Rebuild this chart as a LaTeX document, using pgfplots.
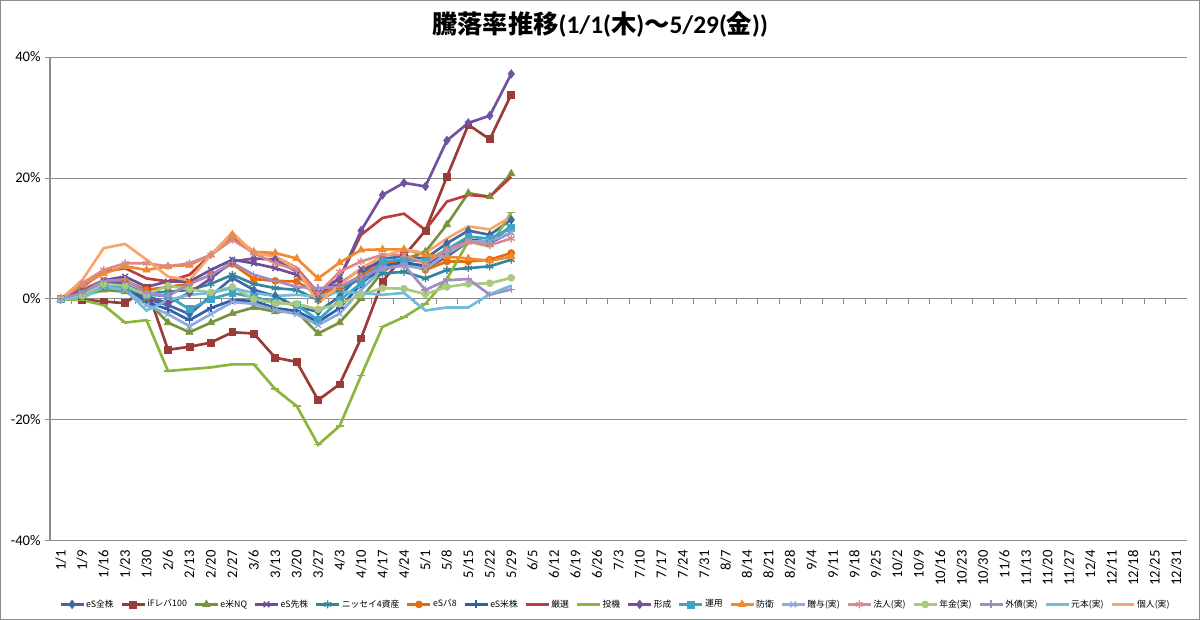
\documentclass[border=0pt]{standalone}
\usepackage{pgfplots}
\usepackage{pgfplotstable}
\pgfplotsset{compat=1.18}
\usetikzlibrary{plotmarks}
\usepackage{fontspec}
\setmainfont{Carlito}
\newfontfamily\jp{Noto Sans CJK JP}

\definecolor{c1}{HTML}{3F6BA5}
\definecolor{c2}{HTML}{9B3B38}
\definecolor{c3}{HTML}{77933C}
\definecolor{c4}{HTML}{6B4E96}
\definecolor{c5}{HTML}{31859C}
\definecolor{c6}{HTML}{E46C0A}
\definecolor{c7}{HTML}{2F5FA8}
\definecolor{c8}{HTML}{BE3C3C}
\definecolor{c9}{HTML}{8DB43F}
\definecolor{c10}{HTML}{7151A0}
\definecolor{c11}{HTML}{3FA4C4}
\definecolor{c12}{HTML}{F08A30}
\definecolor{c13}{HTML}{8EA9DB}
\definecolor{c14}{HTML}{DA8A8A}
\definecolor{c15}{HTML}{A9C97E}
\definecolor{c16}{HTML}{A38CC6}
\definecolor{c17}{HTML}{6FBDD8}
\definecolor{c18}{HTML}{F9A56A}
\definecolor{gridc}{HTML}{8C8C8C}

\pgfplotstableread{
x s1 s2 s3 s4 s5 s6 s7 s8 s9 s10 s11 s12 s13 s14 s15 s16 s17 s18
0 0 0 0 0 0 0 0 0 0 0 0 0 0 0 0 0 0 0
1 1.0 -0.1 0.5 1.5 1.0 1.3 1.0 2.0 -0.2 1.2 0.8 2.3 0.8 2.6 0.5 1.0 0.1 3.1
2 2.5 -0.4 1.5 3.1 2.5 3.0 2.2 4.5 -1.0 2.8 2.3 4.2 2.0 4.8 2.5 3.0 2.0 8.4
3 2.0 -0.7 1.2 3.7 2.2 3.0 1.8 5.1 -3.9 2.5 1.8 5.4 1.5 5.9 2.2 3.2 1.5 9.1
4 0.0 1.9 -0.2 2.0 1.0 1.5 -0.5 3.4 -3.5 0.5 0.7 4.8 -1.0 5.9 0.7 1.0 -1.9 6.5
5 -1.0 -8.4 -3.9 2.9 1.2 2.0 -1.7 2.9 -11.9 -0.7 0.5 5.4 -2.5 5.4 2.2 0.5 -0.2 3.7
6 -2.5 -7.9 -5.5 2.9 1.5 2.5 -3.5 4.0 -11.6 1.0 -1.7 5.6 -4.5 5.9 1.6 2.5 0.7 3.1
7 0.5 -7.2 -3.9 4.8 2.5 4.0 -1.5 7.3 -11.3 3.4 0.0 7.3 -2.5 7.3 1.1 4.0 1.0 7.3
8 3.5 -5.5 -2.4 6.5 4.0 5.8 -0.2 10.3 -10.8 6.2 1.0 10.6 -0.5 9.8 2.0 6.0 1.8 11.0
9 1.5 -5.7 -1.4 5.9 2.5 3.3 -0.3 7.8 -10.8 6.7 0.3 7.8 -0.8 7.6 0.0 4.0 1.0 7.6
10 0.5 -9.7 -2.1 5.1 1.8 3.0 -1.5 7.0 -14.9 6.5 -0.5 7.6 -1.8 5.9 -0.7 3.0 0.5 7.0
11 -1.3 -10.4 -2.1 4.0 1.5 2.9 -2.0 5.1 -17.7 4.5 -1.0 6.7 -2.5 4.8 -0.8 2.0 0.7 5.0
12 -2.1 -16.7 -5.7 1.0 -0.2 0.7 -3.8 1.0 -24.1 0.8 -3.5 3.4 -4.3 0.9 -1.7 1.8 0.4 -0.7
13 0.4 -14.1 -3.9 2.5 1.5 2.0 -1.5 3.5 -21.0 3.4 -0.2 6.0 -2.4 4.5 -0.8 2.0 1.2 2.3
14 4.2 -6.5 0.1 5.0 3.4 3.8 2.5 10.6 -12.7 11.3 2.6 8.1 1.5 6.2 0.7 3.7 1.0 5.1
15 6.7 2.9 4.5 6.0 4.2 5.9 5.5 13.4 -4.6 17.2 6.2 8.2 5.0 7.3 1.8 5.1 0.7 7.0
16 7.0 7.1 6.5 6.3 4.5 5.9 6.0 14.1 -3.0 19.2 6.5 8.2 5.5 7.3 1.7 5.6 1.0 8.2
17 6.7 11.3 7.8 5.0 3.4 4.8 5.5 11.4 -0.8 18.6 6.2 7.3 5.0 5.9 0.8 1.5 -1.9 7.6
18 9.2 20.2 12.3 7.0 4.8 6.2 8.0 16.1 3.3 26.2 8.2 7.0 7.5 8.1 2.0 3.1 -1.4 10.0
19 11.3 28.8 17.5 9.5 5.1 6.2 9.8 17.2 9.5 29.1 10.3 6.7 9.5 9.5 2.5 3.3 -1.4 12.0
20 10.6 26.4 16.9 9.3 5.4 6.5 9.5 16.9 8.7 30.3 10.0 6.3 9.5 8.9 2.6 0.7 0.8 11.5
21 13.1 33.8 20.7 11.0 6.5 7.6 12.0 20.2 14.3 37.2 11.7 7.0 11.0 10.0 3.5 1.6 2.2 13.6
}\data

\begin{document}
\begin{tikzpicture}
\path[use as bounding box] (0,0) rectangle (900pt,465pt);
\draw[gridc, line width=0.75pt] (0.375pt,0.375pt) rectangle (899.625pt,464.625pt);
\begin{axis}[
  at={(37.5pt,59.25pt)}, anchor=south west,
  width=852.75pt, height=363pt, scale only axis,
  xmin=-0.5, xmax=52.5, ymin=-40, ymax=40,
  axis lines*=left, axis line style={-},
  x axis line style={draw=none},
  y axis line style={draw=gridc, line width=0.75pt},
  xtick={0,...,52},
  xticklabels={1/1,1/9,1/16,1/23,1/30,2/6,2/13,2/20,2/27,3/6,3/13,3/20,3/27,4/3,4/10,4/17,4/24,5/1,5/8,5/15,5/22,5/29,6/5,6/12,6/19,6/26,7/3,7/10,7/17,7/24,7/31,8/7,8/14,8/21,8/28,9/4,9/11,9/18,9/25,10/2,10/9,10/16,10/23,10/30,11/6,11/13,11/20,11/27,12/4,12/11,12/18,12/25,12/31},
  xticklabel style={rotate=90, anchor=east, font=\fontsize{11}{12}\selectfont},
  x tick style={draw=none},
  ytick={-40,-20,0,20,40},
  yticklabels={-40\%,-20\%,0\%,20\%,40\%},
  yticklabel style={font=\fontsize{11}{12}\selectfont},
  y tick style={draw=gridc, line width=0.75pt},
  tick align=outside, major tick length=3.5pt,
  ymajorgrids, grid style={draw=gridc, line width=0.75pt},
  legend columns=18,
  legend style={at={(0.497,-0.131)}, anchor=center, draw=none,
    font=\jp\fontsize{6.6}{8}\selectfont, inner sep=0pt,
    nodes={inner xsep=1pt, inner ysep=1pt},
    /tikz/every even column/.append style={column sep=4pt}},
  legend image code/.code={\draw[mark repeat=2, mark phase=2] plot coordinates {(0pt,0pt) (8.6pt,0pt) (17.2pt,0pt)};},
  every axis plot/.append style={line width=2pt},
]
\pgfplotsinvokeforeach{0,...,53}{\draw[gridc, line width=0.75pt] (axis cs:#1-0.5,0) -- ++(0pt,-3.5pt);}
\addplot[c1, mark=diamond*, mark size=3.2pt, mark options={solid, line width=0.5pt, fill=c1}] table[x=x,y=s1]{\data};
\addlegendentry{eS全株}
\addplot[c2, mark=square*, mark size=2.6pt, mark options={solid, line width=0.5pt, fill=c2}] table[x=x,y=s2]{\data};
\addlegendentry{iFレバ100}
\addplot[c3, mark=triangle*, mark size=3.2pt, mark options={solid, line width=0.5pt, fill=c3}] table[x=x,y=s3]{\data};
\addlegendentry{e米NQ}
\addplot[c4, mark=x, mark size=3pt, mark options={solid, line width=1pt}] table[x=x,y=s4]{\data};
\addlegendentry{eS先株}
\addplot[c5, mark=asterisk, mark size=3pt, mark options={solid, line width=1pt}] table[x=x,y=s5]{\data};
\addlegendentry{ニッセイ4資産}
\addplot[c6, mark=*, mark size=2.6pt, mark options={solid, line width=0.5pt, fill=c6}] table[x=x,y=s6]{\data};
\addlegendentry{eSバ8}
\addplot[c7, mark=+, mark size=3pt, mark options={solid, line width=1pt}] table[x=x,y=s7]{\data};
\addlegendentry{eS米株}
\addplot[c8, mark=none] table[x=x,y=s8]{\data};
\addlegendentry{厳選}
\addplot[c9, mark=-, mark size=3pt, mark options={solid, line width=1pt}] table[x=x,y=s9]{\data};
\addlegendentry{投機}
\addplot[c10, mark=diamond*, mark size=3.2pt, mark options={solid, line width=0.5pt, fill=c10}] table[x=x,y=s10]{\data};
\addlegendentry{形成}
\addplot[c11, mark=square*, mark size=2.6pt, mark options={solid, line width=0.5pt, fill=c11}] table[x=x,y=s11]{\data};
\addlegendentry{運用}
\addplot[c12, mark=triangle*, mark size=3.2pt, mark options={solid, line width=0.5pt, fill=c12}] table[x=x,y=s12]{\data};
\addlegendentry{防衛}
\addplot[c13, mark=x, mark size=3pt, mark options={solid, line width=1pt}] table[x=x,y=s13]{\data};
\addlegendentry{贈与(実)}
\addplot[c14, mark=asterisk, mark size=3pt, mark options={solid, line width=1pt}] table[x=x,y=s14]{\data};
\addlegendentry{法人(実)}
\addplot[c15, mark=*, mark size=2.6pt, mark options={solid, line width=0.5pt, fill=c15}] table[x=x,y=s15]{\data};
\addlegendentry{年金(実)}
\addplot[c16, mark=+, mark size=3pt, mark options={solid, line width=1pt}] table[x=x,y=s16]{\data};
\addlegendentry{外債(実)}
\addplot[c17, mark=none] table[x=x,y=s17]{\data};
\addlegendentry{元本(実)}
\addplot[c18, mark=none] table[x=x,y=s18]{\data};
\addlegendentry{個人(実)}
\end{axis}
\node[font=\fontsize{19}{22}\selectfont\bfseries] at (450pt,446.25pt) {{\jp 騰落率推移}(1/1({\jp 木}){\jp ～}5/29({\jp 金}))};
\end{tikzpicture}
\end{document}
